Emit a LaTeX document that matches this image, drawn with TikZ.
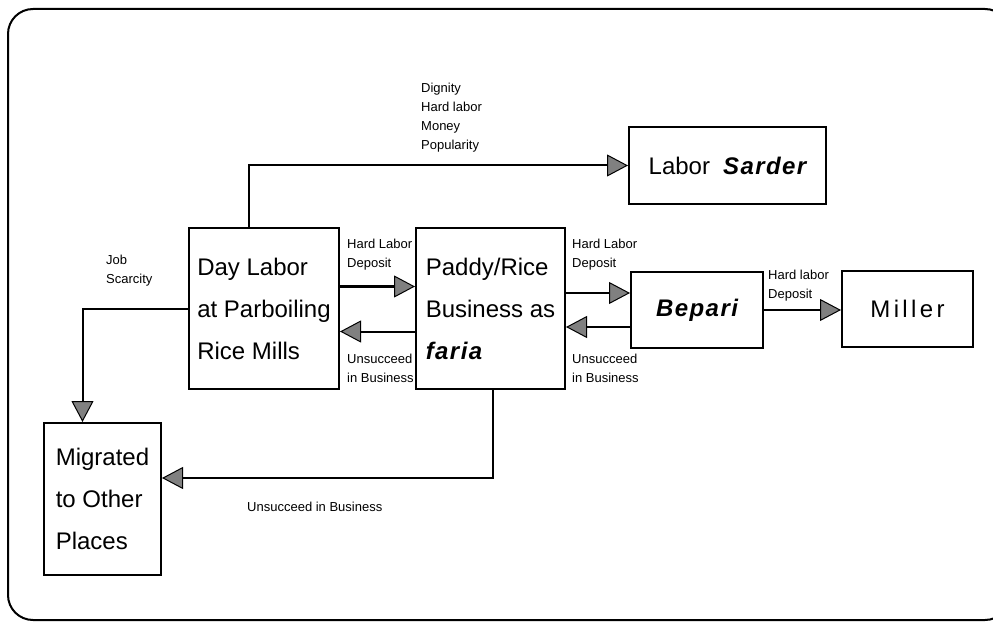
\documentclass[tikz,border=0pt]{standalone}
\usepackage{fontspec}
\setmainfont{Liberation Sans}
\newfontfamily\spacedfont{Liberation Sans}[LetterSpace=14]
\newcommand{\emword}[1]{{\bfseries\itshape\addfontfeatures{LetterSpace=6}#1}}
\usetikzlibrary{arrows.meta, positioning}
\definecolor{TipGray}{gray}{0.5}

\begin{document}
\begin{tikzpicture}[x=1bp, y=-1bp,
	box/.style={draw, line width=2bp, inner sep=0pt, align=left,
		font=\fontsize{24bp}{42bp}\selectfont},
	lbl/.style={anchor=north west, inner sep=0pt, align=left,
		font=\fontsize{13bp}{19bp}\selectfont},
	arr/.style={line width=2bp,
		-{Triangle[length=21bp, width=22bp, fill=TipGray, line width=1bp]}}]
	\useasboundingbox (0,0) rectangle (993,623);
	\clip (0,0) rectangle (993,623);
	% marco
	\draw[line width=2bp, rounded corners=25bp] (8,9) rectangle (1010,620);
	% cajas
	\node[box, minimum width=150bp, minimum height=161bp] (day) at (264,308.5) {Day Labor\\at Parboiling\\Rice Mills};
	\node[box, minimum width=149bp, minimum height=161bp] (paddy) at (490.5,308.5) {Paddy/Rice\\Business as\\\emword{faria}};
	\node[box, minimum width=197bp, minimum height=77bp] (sarder) at (727.5,165.5) {Labor\hspace{13bp}\emword{Sarder}};
	\node[box, minimum width=132bp, minimum height=76bp] (bepari) at (697,310) {\emword{Bepari}};
	\node[box, minimum width=131bp, minimum height=76bp] (miller) at (907.5,309) {\spacedfont Miller};
	\node[box, minimum width=117bp, minimum height=152bp] (migr) at (102.5,499) {Migrated\\to Other\\Places};
	% flechas entre cajas
	\draw[arr] ([yshift=22bp]day.east) -- ([yshift=22bp]day.east -| paddy.west);
	\draw[arr] ([yshift=-23bp]paddy.west) -- ([yshift=-23bp]paddy.west -| day.east);
	\draw[arr] ([yshift=17bp]bepari.west -| paddy.east) -- ([yshift=17bp]bepari.west);
	\draw[arr] ([yshift=-17bp]bepari.west) -- ([yshift=-17bp]bepari.west -| paddy.east);
	\draw[arr] (bepari.east) -- (bepari.east -| miller.west);
	\draw[arr] ([xshift=-15bp]day.north) |- (sarder.west);
	\draw[arr] (day.west) -| ([xshift=-20bp]migr.north);
	\draw[arr] ([xshift=2bp]paddy.south) |- ([yshift=21bp]migr.east);
	% etiquetas
	\node[lbl] (dignity) at (421,83) {Dignity\\Hard labor\\Money\\Popularity};
	\node[lbl] (job) at (106,255) {Job\\Scarcity};
	\foreach \n/\x in {a/347, b/572}{
		\node[lbl] (dep\n) at (\x,239) {Hard Labor\\Deposit};
		\node[lbl] (uns\n) at (\x,354) {Unsucceed\\in Business};
	}
	\node[lbl] (depc) at (768,270) {Hard labor\\Deposit};
	\node[lbl] (unsd) at (247,502) {Unsucceed in Business};
\end{tikzpicture}
\end{document}
